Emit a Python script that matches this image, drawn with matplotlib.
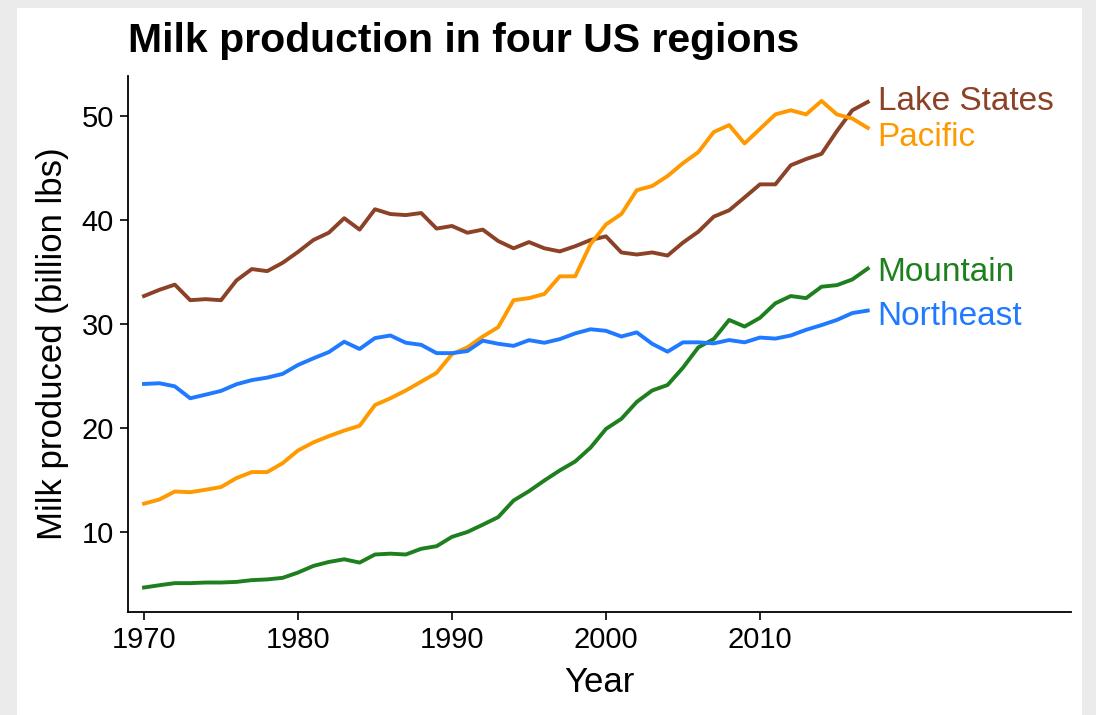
import matplotlib
matplotlib.use("Agg")
import matplotlib.pyplot as plt
from matplotlib.patches import Rectangle

years = list(range(1970, 2018))

lake_states = [32.7, 33.3, 33.8, 32.3, 32.4, 32.3, 34.2, 35.3, 35.1, 35.9,
               36.95, 38.1, 38.8, 40.2, 39.1, 41.06, 40.6, 40.5, 40.7, 39.2,
               39.45, 38.8, 39.1, 38.0, 37.3, 37.9, 37.3, 37.0, 37.5, 38.1,
               38.45, 36.9, 36.7, 36.9, 36.6, 37.85, 38.9, 40.35, 40.96, 42.2,
               43.46, 43.46, 45.3, 45.9, 46.4, 48.6, 50.6, 51.4]

pacific = [12.7, 13.1, 13.87, 13.8, 14.04, 14.3, 15.16, 15.74, 15.74, 16.6,
           17.82, 18.6, 19.2, 19.74, 20.2, 22.2, 22.85, 23.6, 24.45, 25.3,
           27.1, 27.76, 28.8, 29.7, 32.3, 32.5, 32.9, 34.6, 34.6, 37.7,
           39.6, 40.6, 42.9, 43.3, 44.26, 45.5, 46.57, 48.5, 49.17, 47.4,
           48.8, 50.2, 50.6, 50.2, 51.5, 50.2, 49.8, 48.9]

mountain = [4.62, 4.84, 5.04, 5.04, 5.1, 5.1, 5.16, 5.33, 5.4, 5.55,
            6.06, 6.7, 7.08, 7.34, 7.02, 7.8, 7.88, 7.8, 8.35, 8.6,
            9.5, 9.97, 10.67, 11.4, 13.0, 13.9, 14.93, 15.9, 16.76, 18.1,
            19.9, 20.87, 22.5, 23.6, 24.13, 25.8, 27.76, 28.56, 30.4, 29.76,
            30.6, 32.0, 32.7, 32.5, 33.6, 33.75, 34.3, 35.35]

northeast = [24.23, 24.3, 24.0, 22.85, 23.2, 23.56, 24.2, 24.6, 24.84, 25.2,
             26.06, 26.7, 27.3, 28.3, 27.6, 28.65, 28.9, 28.2, 28.0, 27.2,
             27.2, 27.4, 28.4, 28.1, 27.9, 28.45, 28.2, 28.55, 29.1, 29.5,
             29.35, 28.8, 29.2, 28.1, 27.34, 28.24, 28.24, 28.14, 28.46, 28.24,
             28.7, 28.6, 28.9, 29.45, 29.9, 30.4, 31.06, 31.3]

regions = ["Lake States", "Pacific", "Mountain", "Northeast"]
series = [lake_states, pacific, mountain, northeast]
colors = ["#8B4226", "#FF9900", "#1E7F1E", "#1F7AFF"]
label_nudge = [0.05, -0.95, -0.4, -0.55]

x_ticks = [1970, 1980, 1990, 2000, 2010]
y_ticks = [10, 20, 30, 40, 50]

plt.rcParams['font.family'] = ['Liberation Sans', 'DejaVu Sans']

fig = plt.figure(figsize=(10.96, 7.15), dpi=100)
fig.patch.set_facecolor("#EBEBEB")
fig.patches.append(Rectangle((17 / 1096, 0), (1082 - 17) / 1096, 1 - 8 / 715,
                             transform=fig.transFigure, facecolor="white",
                             edgecolor="none", zorder=-10))

ax = fig.add_axes([128 / 1096, 1 - 612 / 715, (1071 - 128) / 1096, (612 - 76) / 715])
ax.set_facecolor("white")

for name, vals, col, nud in zip(regions, series, colors, label_nudge):
    ax.plot(years, vals, color=col, lw=2.8, solid_joinstyle="round")
    ax.text(years[-1] + 0.65, vals[-1] + nud, name, color=col, fontsize=24,
            va="center", ha="left")

ax.set_xlim(1968.96, 2030.2)
ax.set_ylim(2.26, 53.9)
ax.set_xticks(x_ticks)
ax.set_yticks(y_ticks)
ax.tick_params(axis="both", labelsize=21, length=6, width=1.2, color="black",
               labelcolor="black", pad=4)
for s in ["top", "right"]:
    ax.spines[s].set_visible(False)
for s in ["left", "bottom"]:
    ax.spines[s].set_linewidth(1.3)
    ax.spines[s].set_color("black")

ax.set_xlabel("Year", fontsize=25, labelpad=9)
ax.set_ylabel("Milk produced (billion lbs)", fontsize=25, labelpad=9)

fig.text(128 / 1096, 1 - 52 / 715, "Milk production in four US regions",
         fontsize=29.5, fontweight="bold", ha="left", va="baseline")

fig.savefig("out.png", dpi=100, facecolor=fig.get_facecolor())
